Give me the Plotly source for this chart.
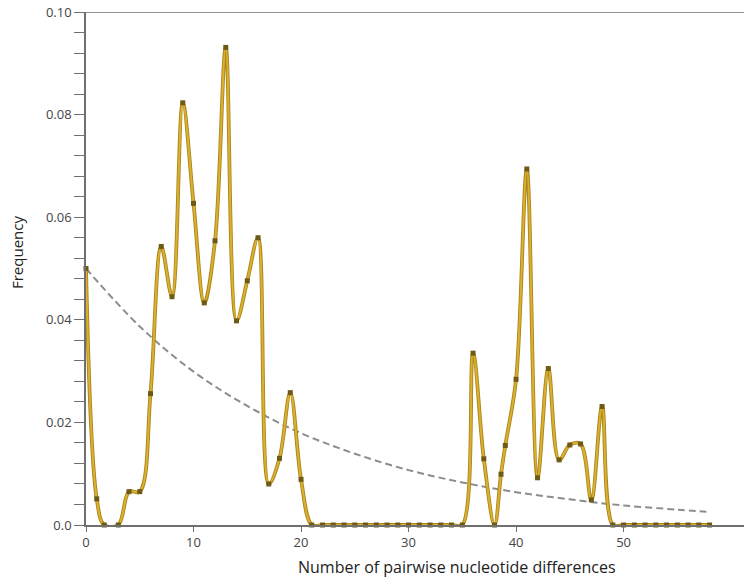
import plotly.graph_objects as go

# Observed frequencies of pairwise nucleotide differences
obs_x = [0, 1, 1.7, 3, 4, 5, 6, 7, 8, 9, 10, 11, 12, 13, 14, 15, 16, 17, 18, 19, 20,
         21, 22, 23, 24, 25, 26, 27, 28, 29, 30, 31, 32, 33, 34, 35,
         36, 37, 38, 38.6, 39, 40, 41, 42, 43, 44, 45, 46, 47, 48,
         49, 50, 51, 52, 53, 54, 55, 56, 57, 58]
obs_y = [0.0500, 0.0051, 0.0, 0.0, 0.0065, 0.0065, 0.0256, 0.0543, 0.0445, 0.0823,
         0.0627, 0.0433, 0.0554, 0.0931, 0.0398, 0.0476, 0.0560, 0.0080, 0.0130,
         0.0258, 0.0089,
         0, 0, 0, 0, 0, 0, 0, 0, 0, 0, 0, 0, 0, 0, 0,
         0.0335, 0.0129, 0.0, 0.0099, 0.0155, 0.0284, 0.0694, 0.0092, 0.0305,
         0.0127, 0.0156, 0.0158, 0.0049, 0.0231,
         0, 0, 0, 0, 0, 0, 0, 0, 0, 0]

# Expected distribution (dashed curve)
exp_x = [0, 5, 10, 15, 20, 25, 30, 35, 40, 45, 50, 55, 57.7]
exp_y = [0.0500, 0.0387, 0.0299, 0.0232, 0.0179, 0.0139, 0.0107, 0.0083,
         0.0064, 0.0050, 0.0038, 0.0030, 0.0026]

y_tickvals = [0, 0.02, 0.04, 0.06, 0.08, 0.10]
y_ticktext = ["0.0", "0.02", "0.04", "0.06", "0.08", "0.10"]
x_tickvals = [0, 10, 20, 30, 40, 50]

fig = go.Figure()
fig.add_trace(go.Scatter(x=exp_x, y=exp_y, mode="lines",
                         line=dict(color="#8c8c8c", width=2, dash="7px,4px",
                                   shape="spline", smoothing=1.0),
                         hoverinfo="skip", showlegend=False))
fig.add_trace(go.Scatter(x=obs_x, y=obs_y, mode="lines",
                         line=dict(color="#a8871c", width=3.8, shape="spline", smoothing=1.0),
                         hoverinfo="skip", showlegend=False))
fig.add_trace(go.Scatter(x=obs_x, y=obs_y, mode="lines+markers",
                         line=dict(color="#dcb02e", width=2, shape="spline", smoothing=1.0),
                         marker=dict(symbol="square", size=5, color="#6e5a14"),
                         showlegend=False, cliponaxis=False))

fig.add_shape(type="line", xref="paper", yref="y", x0=0, x1=1, y0=0.10, y1=0.10,
              line=dict(color="#6f6f6f", width=1.5))

fig.add_annotation(text="Number of pairwise nucleotide differences", xref="paper", yref="paper",
                   x=(457 - 86) / 658, y=-(567 - 525) / 513, xanchor="center", yanchor="middle",
                   showarrow=False, font=dict(size=16, color="#222222"))
fig.add_annotation(text="Frequency", xref="paper", yref="paper",
                   x=-(86 - 17) / 658, y=(525 - 253) / 513, xanchor="center", yanchor="middle",
                   textangle=-90, showarrow=False, font=dict(size=15, color="#222222"))

fig.update_layout(
    width=744, height=579,
    margin=dict(l=86, r=0, t=12, b=54, autoexpand=False),
    plot_bgcolor="white", paper_bgcolor="white",
    font=dict(family="Open Sans, sans-serif", color="#333333"),
    xaxis=dict(range=[0, 61.2], tickvals=x_tickvals, ticks="outside", ticklen=5,
               tickcolor="#6f6f6f", showline=True, linecolor="#6f6f6f", linewidth=1.5,
               showgrid=False, zeroline=False, automargin=False,
               tickfont=dict(size=13, color="#444444")),
    yaxis=dict(range=[0, 0.10], tickvals=y_tickvals, ticktext=y_ticktext,
               ticks="outside", ticklen=10, tickcolor="#6f6f6f", ticklabeloverflow="allow",
               minor=dict(dtick=0.004, ticks="outside", ticklen=10, tickcolor="#6f6f6f",
                          showgrid=False),
               showline=True, linecolor="#6f6f6f", linewidth=1.5,
               showgrid=False, zeroline=False, automargin=False,
               tickfont=dict(size=13, color="#444444")),
)

# remove the default 8px page margin so the figure fills the 744x579 window
fig.write_html("out.html", config={"displayModeBar": False},
               post_script="document.body.style.margin='0';")
